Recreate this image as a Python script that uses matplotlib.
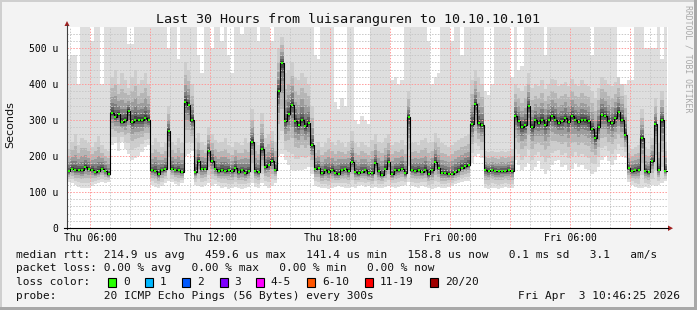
import numpy as np
import matplotlib
matplotlib.use('Agg')
import matplotlib.pyplot as plt
from matplotlib.patches import Rectangle, Polygon
from matplotlib.lines import Line2D

# 10 minute steps from Thu 04:51, values in microseconds
t_start = 4.85
step_h = 1 / 6.0

med = [157, 165, 160, 162, 160, 170, 165, 162, 155, 158, 165, 158, 150,
       320, 308, 316, 295, 300, 325, 295, 300, 300, 300, 305, 300,
       160, 158, 150, 160, 165, 270, 165, 160, 160, 155, 350, 342, 300,
       155, 185, 165, 165, 215, 185, 165,
       158, 162, 158, 162, 158, 168, 155, 160, 152, 158, 240, 158, 155, 220,
       170, 175, 185, 162,
       380, 459, 296, 316, 342, 296, 286, 300, 282, 292, 230,
       165, 168, 152, 160, 156, 160, 152, 150, 160, 163, 158, 184, 155, 152, 156, 160,
       152, 152, 181, 158, 148, 165, 184, 150, 160, 162, 165, 152, 309,
       160, 158, 162, 156, 162, 150, 160, 184, 168, 154, 152, 150, 150, 156, 160, 168, 172, 175,
       290, 344, 292, 285,
       160, 158, 160, 158, 157, 158, 158, 160, 158,
       312, 297, 281, 286, 339, 280, 299, 292, 300, 287, 300, 310, 300, 292, 297, 305, 295,
       310, 300, 295, 300, 300, 296, 276, 250, 281, 315, 310, 297, 292, 305, 322, 300, 258,
       166, 158, 160, 162, 250, 158, 155, 185, 290, 162, 300, 159]

# lowest ping
lo = [128, 125, 120, 115, 112, 110, 112, 118, 122, 125, 128, 125, 128,
      230, 235, 215, 240, 220, 205, 190, 195, 200, 210, 225, 230,
      120, 115, 112, 118, 125, 130, 128, 122, 118, 125, 200, 205, 215,
      120, 118, 115, 120, 125, 118, 122,
      118, 112, 115, 108, 112, 115, 110, 108, 112, 115, 125, 115, 112, 125,
      118, 112, 118, 125,
      200, 205, 190, 175, 160, 158, 160, 162, 165, 170, 150,
      118, 115, 112, 110, 108, 112, 115, 118, 115, 112, 110, 115, 112, 118, 120, 115,
      118, 112, 115, 110, 112, 115, 118, 115, 112, 115, 118, 120, 128,
      118, 115, 112, 118, 115, 110, 108, 112, 115, 110, 112, 115, 118, 122, 125, 128, 130, 130,
      180, 200, 205, 195,
      110, 108, 112, 110, 108, 112, 115, 110, 112,
      190, 175, 160, 170, 180, 160, 170, 185, 165, 150, 160, 175, 185, 190, 170, 175, 160,
      165, 180, 170, 175, 165, 160, 150, 155, 170, 190, 200, 185, 175, 190, 205, 200, 195,
      128, 120, 115, 110, 112, 115, 112, 120, 118, 120, 125, 130]

# upper edge of the dense smoke
up = [220, 240, 260, 230, 250, 245, 235, 225, 240, 255, 230, 220, 215,
      420, 440, 400, 430, 410, 390, 420, 440, 400, 410, 430, 400,
      230, 250, 240, 225, 235, 340, 240, 230, 250, 235, 460, 440, 400,
      250, 265, 240, 230, 280, 260, 245,
      235, 240, 250, 230, 225, 240, 235, 230, 250, 235, 330, 240, 230, 320,
      250, 260, 270, 240,
      500, 530, 430, 440, 460, 420, 410, 430, 420, 400, 340,
      230, 240, 225, 235, 250, 240, 230, 245, 235, 225, 240, 270, 235, 225, 240, 230,
      225, 245, 260, 240, 235, 250, 260, 230, 240, 235, 245, 230, 380,
      235, 240, 230, 245, 250, 235, 240, 265, 250, 235, 230, 225, 230, 240, 245, 250, 255, 260,
      410, 440, 420, 400,
      215, 210, 215, 210, 210, 215, 210, 215, 220,
      400, 390, 380, 395, 430, 390, 400, 395, 410, 385, 400, 415, 410, 395, 400, 405, 395,
      415, 400, 395, 410, 400, 395, 380, 360, 390, 420, 410, 400, 395, 405, 420, 400, 370,
      230, 220, 225, 230, 330, 225, 220, 250, 360, 235, 380, 240]

# highest ping
hi = [470, 480, 480, 400, 560, 560, 560, 520, 560, 560, 400, 560, 560,
      560, 560, 560, 560, 560, 510, 510, 560, 560, 560, 560, 560,
      560, 560, 560, 560, 560, 500, 560, 560, 470, 560, 560, 560, 560,
      560, 480, 430, 560, 560, 500, 560,
      560, 520, 560, 480, 430, 560, 560, 540, 560, 560, 560, 560, 520, 560,
      560, 560, 520, 560,
      560, 560, 560, 560, 560, 560, 560, 560, 560, 560, 560,
      480, 470, 560, 560, 560, 560, 350, 330, 360, 340, 560, 560, 300, 290, 310, 300,
      290, 560, 560, 560, 560, 560, 560, 410, 420, 400, 410, 560, 560,
      560, 560, 560, 560, 560, 520, 400, 420, 430, 560, 560, 560, 520, 560, 560, 480, 560, 560,
      560, 560, 560, 560,
      380, 370, 400, 560, 560, 560, 560, 560, 420,
      560, 440, 450, 560, 560, 560, 560, 560, 560, 480, 560, 560, 560, 560, 560, 560, 560,
      560, 560, 560, 560, 560, 560, 480, 560, 560, 560, 560, 560, 560, 560, 420, 380, 400,
      410, 410, 560, 560, 560, 500, 500, 500, 500, 560, 470, 560]

y_ticks = [0, 100, 200, 300, 400, 500]
y_labels = ['0', '100 u', '200 u', '300 u', '400 u', '500 u']
x_ticks = [6, 12, 18, 24, 30]
x_labels = ['Thu 06:00', 'Thu 12:00', 'Thu 18:00', 'Fri 00:00', 'Fri 06:00']

loss_names = ['0', '1', '2', '3', '4-5', '6-10', '11-19', '20/20']
loss_colors = ['#26ff00', '#00b8ff', '#0059ff', '#7e00ff', '#ff00ff', '#ff5500', '#ff0000', '#a00000']

legend_lines = [
    'median rtt:  214.9 us avg   459.6 us max   141.4 us min   158.8 us now   0.1 ms sd   3.1   am/s',
    'packet loss: 0.00 % avg   0.00 % max   0.00 % min   0.00 % now',
    'loss color:',
    'probe:       20 ICMP Echo Pings (56 Bytes) every 300s',
]
stamp = 'Fri Apr  3 10:46:25 2026'

W, H = 697, 310
MONO = 'DejaVu Sans Mono'

def fx(px):
    return px / W

def fy(py):
    return 1 - py / H

fig = plt.figure(figsize=(W / 100, H / 100), dpi=100)
fig.patch.set_facecolor('#f3f3f3')

ax = fig.add_axes([fx(67), fy(228), fx(668) - fx(67), fy(27) - fy(228)])
ax.set_facecolor('white')
ax.set_xlim(t_start, t_start + 601 / 20.0)
ax.set_ylim(0, 201 / 0.36)

med = np.array(med, float)
lo = np.array(lo, float)
up = np.array(up, float)
hi = np.array(hi, float)
n = len(med)
xe = t_start + np.arange(n + 1) * step_h


def ext(a):
    return np.append(a, a[-1])


# smoke: light outer band, then darker layers toward the median
ax.fill_between(xe, ext(lo), ext(hi), step='post', color='#dedede', lw=0, zorder=1)
fr = [1.0, 0.68, 0.44, 0.27, 0.15, 0.07]
shades = ['#cdcdcd', '#b6b6b6', '#9c9c9c', '#7f7f7f', '#616161', '#434343']
for f, c in zip(fr, shades):
    bot = med - (med - lo) * f * 0.75
    top = med + (up - med) * f
    ax.fill_between(xe, ext(bot), ext(top), step='post', color=c, lw=0, zorder=2)

# grid (rrdtool draws it over the smoke)
dots = (0, (1.5, 1.5))
for h in np.arange(5, 35):
    if h % 3 == 0:
        continue
    ax.axvline(h, color='#c8c8c8', lw=0.7, ls=dots, zorder=3)
for v in np.arange(20, 560, 20):
    if v % 100 == 0:
        continue
    ax.axhline(v, color='#c8c8c8', lw=0.7, ls=dots, zorder=3)
for h in np.arange(6, 35, 3):
    ax.axvline(h, color='#ff9a9a', lw=0.7, ls=dots, zorder=3)
for v in y_ticks[1:]:
    ax.axhline(v, color='#ff9a9a', lw=0.7, ls=dots, zorder=3)

# median
ax.step(xe, ext(med), where='post', color='black', lw=0.8, zorder=4)
ax.plot(xe[:-1] + step_h / 2, med, 's', color='#26ff00', ms=1.7, mew=0, zorder=5)

for s in ax.spines.values():
    s.set_visible(False)
ax.set_yticks(y_ticks)
ax.set_yticklabels(y_labels, fontfamily=MONO, fontsize=7)
ax.set_xticks(x_ticks)
ax.set_xticklabels(x_labels, fontfamily=MONO, fontsize=7)
ax.tick_params(axis='y', length=0, pad=6.5)
ax.tick_params(axis='x', length=0, pad=3.5)

# axes lines with arrows
fig.add_artist(Line2D([fx(67), fx(67)], [fy(229), fy(25)], color='#404040', lw=0.8))
fig.add_artist(Line2D([fx(64), fx(668)], [fy(228.2), fy(228.2)], color='black', lw=0.8))
fig.add_artist(Polygon([[fx(64.5), fy(26)], [fx(69.5), fy(26)], [fx(67), fy(21)]],
                       closed=True, color='#a02020', lw=0))
fig.add_artist(Polygon([[fx(668), fy(225.5)], [fx(668), fy(231)], [fx(673), fy(228.2)]],
                       closed=True, color='#a02020', lw=0))

# frame
fig.add_artist(Rectangle((0, fy(2)), 1, fy(0) - fy(2), color='#cfcfcf', lw=0))
fig.add_artist(Rectangle((0, 0), fx(2), 1, color='#cfcfcf', lw=0))
fig.add_artist(Rectangle((fx(694), 0), fx(3), 1, color='#a8a8a8', lw=0))
fig.add_artist(Rectangle((0, 0), 1, fy(307), color='#a8a8a8', lw=0))

fig.text(0.5, fy(19), 'Last 30 Hours from luisaranguren to 10.10.10.101',
         ha='center', va='center', family=MONO, fontsize=9.6, color='#111111')
fig.text(fx(10), fy(125), 'Seconds', rotation=90, ha='center', va='center',
         family='DejaVu Sans', fontsize=8, color='#111111')
fig.text(fx(688), fy(59), 'RRDTOOL / TOBI OETIKER', rotation=270, ha='center', va='center',
         family=MONO, fontsize=5.9, color='#a8a8a8')

rows = [254.5, 268.3, 282.3, 296.2]
for txt, yy in zip(legend_lines, rows):
    fig.text(fx(16), fy(yy), txt, ha='left', va='center', family=MONO,
             fontsize=8.05, color='#111111')
fig.text(fx(680), fy(rows[3]), stamp, ha='right', va='center', family=MONO,
         fontsize=8.05, color='#111111')

box_x = [108.4, 145.3, 182.2, 219.6, 256.0, 307.1, 365.3, 430.2]
for bx, name, col in zip(box_x, loss_names, loss_colors):
    fig.add_artist(Rectangle((fx(bx), fy(286.5)), fx(8), fy(278) - fy(286.5),
                             facecolor=col, edgecolor='black', lw=0.8))
    fig.text(fx(bx + 14.7), fy(rows[2]), name, ha='left', va='center', family=MONO,
             fontsize=8.05, color='#111111')

fig.savefig('out.png', dpi=100, facecolor=fig.get_facecolor())
